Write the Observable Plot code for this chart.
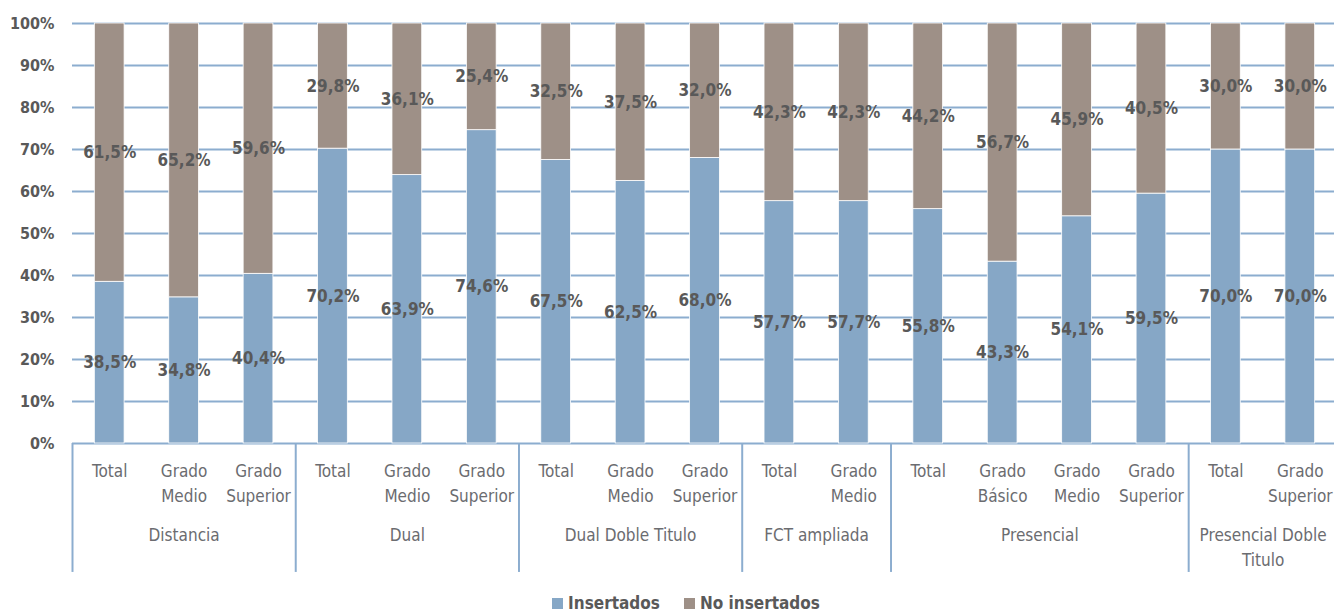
<!DOCTYPE html>
<html>
<head>
<meta charset="utf-8">
<script src="https://cdn.jsdelivr.net/npm/d3@7"></script>
<script src="https://cdn.jsdelivr.net/npm/@observablehq/plot@0.6"></script>
<style>
  html, body { margin: 0; padding: 0; background: #fff; overflow: hidden; }
  #chart svg { display: block; }
  .legend { height: 25px; display: flex; justify-content: center; align-items: center; gap: 24px;
    font-family: "Liberation Sans Narrow", "DejaVu Sans Condensed", "Arial Narrow", sans-serif;
    font-weight: bold; font-size: 17px; color: #595959; padding-left: 38px; }
  .legend span.sw { display: inline-block; width: 11px; height: 11px; margin-right: 5px; vertical-align: middle; }
</style>
</head>
<body>
<div id="chart"></div>
<div class="legend" id="legend"></div>
<script>
// ---- data ----
const grupos = ["Distancia", "Dual", "Dual Doble Titulo", "FCT ampliada", "Presencial", "Presencial Doble Titulo"];
const grupoLabels = ["Distancia", "Dual", "Dual Doble Titulo", "FCT ampliada", "Presencial", "Presencial Doble\nTitulo"];
const grupoDeBarra = ["Distancia", "Distancia", "Distancia", "Dual", "Dual", "Dual",
  "Dual Doble Titulo", "Dual Doble Titulo", "Dual Doble Titulo", "FCT ampliada", "FCT ampliada",
  "Presencial", "Presencial", "Presencial", "Presencial", "Presencial Doble Titulo", "Presencial Doble Titulo"];
const niveles = ["Total", "Grado Medio", "Grado Superior", "Total", "Grado Medio", "Grado Superior",
  "Total", "Grado Medio", "Grado Superior", "Total", "Grado Medio",
  "Total", "Grado Básico", "Grado Medio", "Grado Superior", "Total", "Grado Superior"];
const insertados = [38.5, 34.8, 40.4, 70.2, 63.9, 74.6, 67.5, 62.5, 68.0, 57.7, 57.7, 55.8, 43.3, 54.1, 59.5, 70.0, 70.0];
const noInsertados = [61.5, 65.2, 59.6, 29.8, 36.1, 25.4, 32.5, 37.5, 32.0, 42.3, 42.3, 44.2, 56.7, 45.9, 40.5, 30.0, 30.0];
const series = ["Insertados", "No insertados"];
const yTicks = [0, 10, 20, 30, 40, 50, 60, 70, 80, 90, 100];

// ---- derived table ----
const colors = ["#86a7c6", "#9e9087"];
const ids = niveles.map((n, i) => grupoDeBarra[i] + "|" + i);
const rows = [];
ids.forEach((id, i) => {
  rows.push({id, serie: series[0], value: insertados[i], mid: insertados[i] / 2});
  rows.push({id, serie: series[1], value: noInsertados[i], mid: insertados[i] + noInsertados[i] / 2});
});
const fmt = v => v.toFixed(1).replace(".", ",") + "%";
const ticksData = ids.map((id, i) => ({id, label: niveles[i].replace(" ", "\n")}));

const W = 1334, H = 590;
const x0 = 72, x1 = 1337;
const step = (x1 - x0) / ids.length;
const font = '"Liberation Sans Narrow", "DejaVu Sans Condensed", "Arial Narrow", sans-serif';
const grid = "#8cadcf";

const groupMarks = [];
grupos.forEach((g, gi) => {
  const members = ids.filter((id, i) => grupoDeBarra[i] === g);
  const first = members[0];
  groupMarks.push(Plot.ruleX([first], {x: d => d, y1: 0, y2: -30.7, dx: -step / 2, stroke: grid, strokeWidth: 2, clip: false}));
  groupMarks.push(Plot.text([first], {
    x: d => d, text: () => grupoLabels[gi], frameAnchor: "bottom", lineAnchor: "top", dy: 80,
    dx: (members.length - 1) * step / 2, fill: "#6b6c70", fontSize: 17, lineHeight: 1.45, letterSpacing: "-0.5px"
  }));
});

const chart = Plot.plot({
  width: W, height: H,
  marginLeft: x0, marginRight: 0, marginTop: 23, marginBottom: H - 443,
  style: {fontFamily: font, background: "#fff", overflow: "visible"},
  x: {domain: ids, range: [x0, x1], paddingInner: 0.6, paddingOuter: 0.3, round: false, axis: null},
  y: {domain: [0, 100], axis: null},
  color: {domain: series, range: colors},
  marks: [
    Plot.ruleY(yTicks, {stroke: grid, strokeWidth: 2.2}),
    Plot.barY(rows, {x: "id", y: "value", fill: "serie", stroke: "#fff", strokeWidth: 0.8}),
    Plot.text(rows, {x: "id", y: "mid", text: d => fmt(d.value), fill: "#595959", fontSize: 17, fontWeight: "bold", letterSpacing: "-0.3px"}),
    Plot.text(yTicks, {y: d => d, text: d => d + "%", frameAnchor: "left", textAnchor: "end", dx: -18, fill: "#595959", fontSize: 16, fontWeight: "bold"}),
    Plot.text(ticksData, {x: "id", text: "label", frameAnchor: "bottom", lineAnchor: "top", dy: 16, fill: "#6b6c70", fontSize: 17, lineHeight: 1.45, letterSpacing: "-0.5px"}),
    ...groupMarks
  ]
});
document.getElementById("chart").appendChild(chart);

const lg = document.getElementById("legend");
series.forEach((s, i) => {
  const item = document.createElement("div");
  item.innerHTML = `<span class="sw" style="background:${colors[i]}"></span>${s}`;
  lg.appendChild(item);
});
</script>
</body>
</html>
